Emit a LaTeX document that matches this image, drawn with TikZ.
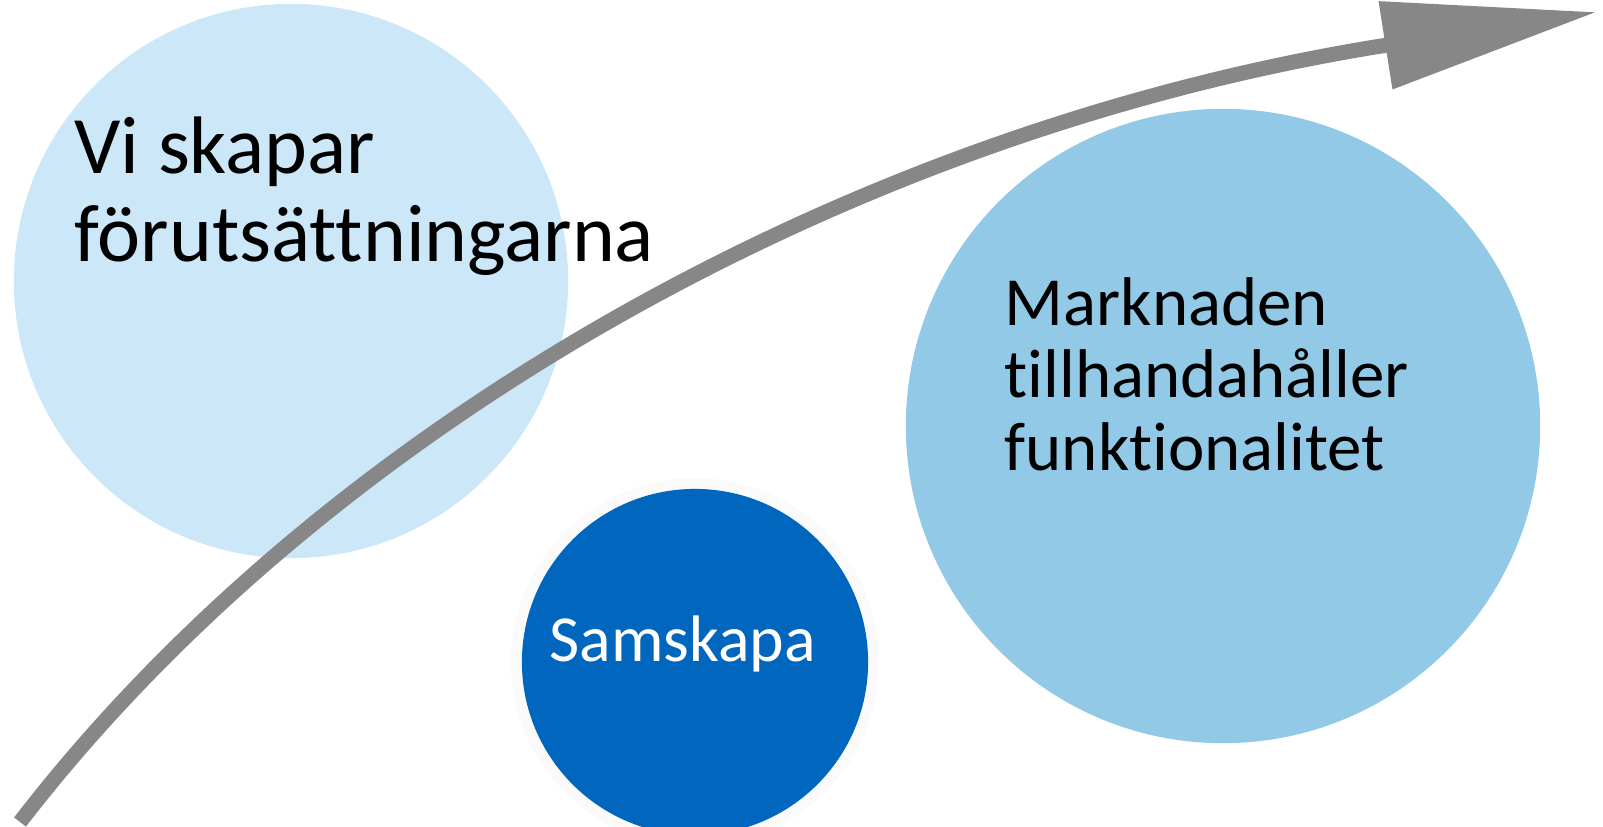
\documentclass[tikz,border=0pt]{standalone}
\usepackage{fontspec}
\setmainfont{Carlito}[Ligatures={NoCommon,NoRequired,NoContextual}]
\usetikzlibrary{arrows.meta}
\definecolor{paleblue}{HTML}{CCE8F8}
\definecolor{skyblue}{HTML}{92C9E6}
\definecolor{deepblue}{HTML}{0066BE}
\definecolor{arrowgray}{HTML}{878787}

\begin{document}
\begin{tikzpicture}[x=0.01cm, y=-0.01cm,
    blob/.style={circle, inner sep=0pt},
    label text/.style={align=left, anchor=base west, inner sep=0pt}]
    \useasboundingbox (0,0) rectangle (1603,826);
    \clip (0,0) rectangle (1603,826);

    \node[blob, fill=paleblue, minimum size=5.54cm] (create) at (291,281) {};
    \node[blob, fill=skyblue, minimum size=6.34cm] (market) at (1223,426) {};
    \node[blob, fill=black!2, minimum size=3.68cm] (halo) at (695,662) {};
    \node[blob, fill=deepblue, minimum size=3.46cm] (cocreate) at (695,662) {};

    \coordinate (tail) at (20,822);
    \coordinate (head) at (1597,12);
    \draw[arrowgray, line width=0.15cm, -{Triangle[length=2.14cm, width=0.85cm]}]
        (tail) .. controls (330,420) and (860,128) .. (head);

    \node[label text, font=\fontsize{23.2}{24.8}\selectfont] (createtext) at (74,261) {Vi skapar\\förutsättningarna};
    \node[label text, font=\fontsize{19.6}{20.6}\selectfont] (markettext) at (1004,470) {Marknaden\\tillhandahåller\\funktionalitet};
    \node[label text, font=\fontsize{18.7}{20}\selectfont, text=white] (cocreatetext) at (549,661) {Samskapa};
  \end{tikzpicture}
\end{document}
